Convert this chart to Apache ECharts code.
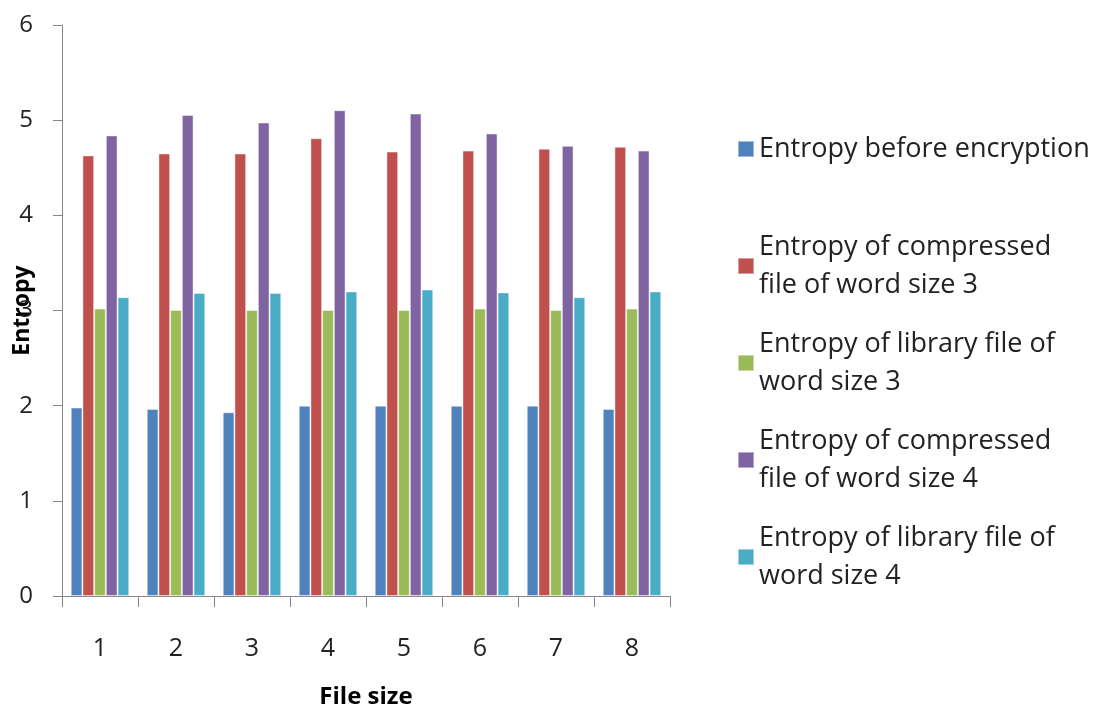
<!DOCTYPE html>
<html>
<head>
<meta charset="utf-8">
<script src="https://cdn.jsdelivr.net/npm/echarts@6/dist/echarts.min.js"></script>
<style>
  html, body { margin: 0; padding: 0; background: #fff; }
  #chart { width: 1100px; height: 711px; }
</style>
</head>
<body>
<div id="chart"></div>
<script>
// File sizes on the category axis
const fileSizes = ['1', '2', '3', '4', '5', '6', '7', '8'];

// Entropy values per file
const entropyBefore       = [1.98, 1.965, 1.93, 2.00, 2.00, 2.00, 2.00, 1.965];
const compressedWord3     = [4.63, 4.65, 4.65, 4.81, 4.67, 4.68, 4.70, 4.72];
const libraryWord3        = [3.02, 3.005, 3.005, 3.005, 3.005, 3.02, 3.005, 3.02];
const compressedWord4     = [4.84, 5.055, 4.975, 5.105, 5.07, 4.86, 4.73, 4.68];
const libraryWord4        = [3.14, 3.185, 3.185, 3.20, 3.22, 3.19, 3.14, 3.20];

const seriesNames = [
  'Entropy before encryption',
  'Entropy of compressed\nfile of word size 3',
  'Entropy of library file of\nword size 3',
  'Entropy of compressed\nfile of word size 4',
  'Entropy of library file of\nword size 4'
];
const seriesData = [entropyBefore, compressedWord3, libraryWord3, compressedWord4, libraryWord4];
const colors = ['#4F81BD', '#C0504D', '#9BBB59', '#8064A2', '#4BACC6'];

const FONT = '"Open Sans", Lato, sans-serif';
const LINE = 38;

const chart = echarts.init(document.getElementById('chart'), null, { renderer: 'canvas' });

const legendBase = {
  orient: 'vertical',
  left: 737,
  padding: 0,
  itemWidth: 16,
  itemHeight: 16,
  icon: 'rect',
  textStyle: {
    fontFamily: FONT,
    fontSize: 27,
    color: '#222',
    lineHeight: LINE
  }
};

chart.setOption({
  animation: false,
  color: colors,
  grid: { left: 62, right: 430, top: 25, bottom: 115, containLabel: false, outerBoundsMode: 'none' },
  legend: [
    // single-line entry
    Object.assign({}, legendBase, {
      top: 130,
      data: [seriesNames[0]]
    }),
    // two-line entries: top padding keeps the icon level with the first line
    Object.assign({}, legendBase, {
      top: 209,
      itemGap: -17,
      data: seriesNames.slice(1).map(function (name) {
        return { name: name, textStyle: { padding: [LINE, 0, 0, 0] } };
      })
    })
  ],
  xAxis: {
    type: 'category',
    data: fileSizes,
    name: 'File size',
    nameLocation: 'middle',
    nameGap: 89,
    nameMoveOverlap: false,
    nameTextStyle: { fontFamily: FONT, fontSize: 24, fontWeight: 'bold', color: '#000' },
    axisLine: { lineStyle: { color: '#878787', width: 1 } },
    axisTick: { show: true, length: 11, lineStyle: { color: '#878787' } },
    axisLabel: { fontFamily: FONT, fontSize: 25, color: '#222', margin: 40 },
    splitLine: { show: false }
  },
  yAxis: {
    type: 'value',
    min: 0,
    max: 6,
    interval: 1,
    name: 'Entropy',
    nameLocation: 'middle',
    nameGap: 28,
    nameRotate: 90,
    nameMoveOverlap: false,
    nameTextStyle: { fontFamily: FONT, fontSize: 23, fontWeight: 'bold', color: '#000' },
    axisLine: { show: true, lineStyle: { color: '#878787', width: 1 } },
    axisTick: { show: true, length: 9, lineStyle: { color: '#878787' } },
    axisLabel: { fontFamily: FONT, fontSize: 24, color: '#222', margin: 29 },
    splitLine: { show: false }
  },
  series: seriesData.map(function (d, i) {
    return {
      name: seriesNames[i],
      type: 'bar',
      data: d,
      barGap: '0%',
      barCategoryGap: '23%',
      itemStyle: { color: colors[i], borderColor: 'rgba(255,255,255,0.45)', borderWidth: 1 }
    };
  })
});
</script>
</body>
</html>
